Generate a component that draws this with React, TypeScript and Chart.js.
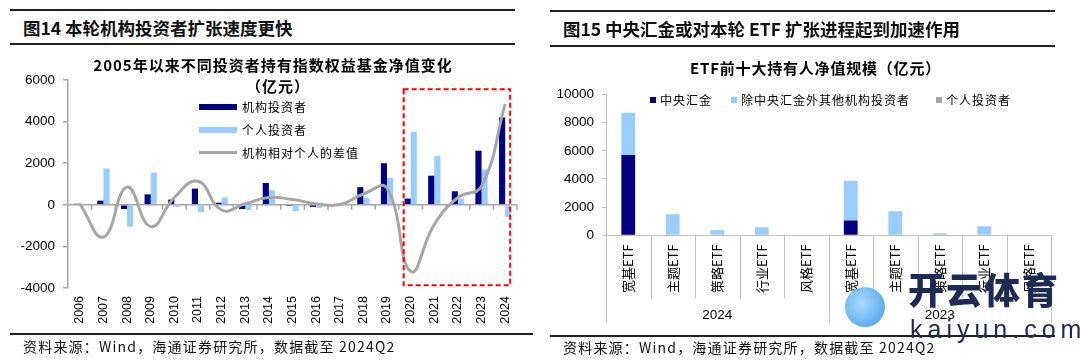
import React, { useEffect, useRef } from 'react';
import { Chart, registerables } from 'chart.js';

Chart.register(...registerables);

// ---------- Data: Figure 14 ----------
const years = ['2006', '2007', '2008', '2009', '2010', '2011', '2012', '2013', '2014', '2015', '2016', '2017', '2018', '2019', '2020', '2021', '2022', '2023', '2024'];
const institutionNet = [50, 200, -200, 500, 250, 780, 100, -200, 1050, -60, -100, -20, 850, 2000, 300, 1400, 650, 2600, 4200];
const individualNet = [0, 1750, -1050, 1550, -100, -350, 350, -250, 700, -300, -150, -30, 330, 1300, 3500, 2350, 300, 1700, -600];
const netDifference = [50, -1550, 850, -1050, 350, 1130, -250, 50, 350, 250, 50, 10, 520, 800, -3200, -950, 350, 900, 4850];
const leftYMin = -4000;
const leftYMax = 6000;
const leftYStep = 2000;

// ---------- Data: Figure 15 ----------
const etfTypes = ['宽基ETF', '主题ETF', '策略ETF', '行业ETF', '风格ETF', '宽基ETF', '主题ETF', '策略ETF', '行业ETF', '风格ETF'];
const etfYearGroups = ['2024', '2023'];
const huijinHoldings = [5700, 0, 0, 0, 0, 1050, 0, 0, 0, 0];
const otherInstitutionHoldings = [3000, 1500, 380, 580, 0, 2820, 1700, 140, 640, 0];
const individualHoldings = [0, 0, 0, 0, 0, 0, 0, 0, 0, 0];
const rightYMin = 0;
const rightYMax = 10000;
const rightYStep = 2000;

const NAVY = '#000080';
const LIGHT = '#99CCFF';
const GRAY = '#A6A6A6';
const AXIS_L = '#A6A6A6';
const AXIS_R = '#BFBFBF';
const LATIN = "'Liberation Sans', Arial, 'Noto Sans CJK SC', sans-serif";
const CJK = "'Noto Sans CJK SC', 'Liberation Sans', sans-serif";

const plainTick = (v: any) => String(v);

function LeftChart() {
  const ref = useRef<HTMLCanvasElement>(null);
  useEffect(() => {
    const overlay = {
      id: 'leftOverlay',
      beforeDatasetsDraw(chart: any) {
        const { ctx, chartArea } = chart;
        const y = chart.scales.y;
        const y0 = y.getPixelForValue(0);
        ctx.save();
        ctx.strokeStyle = AXIS_L;
        ctx.lineWidth = 1.5;
        ctx.beginPath();
        ctx.moveTo(chartArea.left, y0);
        ctx.lineTo(chartArea.right, y0);
        const n = years.length;
        const w = (chartArea.right - chartArea.left) / n;
        for (let i = 1; i <= n; i++) {
          const px = chartArea.left + i * w;
          ctx.moveTo(px, y0);
          ctx.lineTo(px, y0 + 5);
        }
        ctx.stroke();
        ctx.restore();
      },
      afterDraw(chart: any) {
        const { ctx } = chart;
        const x = chart.scales.x;
        const y = chart.scales.y;
        const left = x.getPixelForValue(14) - 7;
        const right = x.getPixelForValue(18) + 5;
        const top = y.getPixelForValue(5550);
        const bottom = y.getPixelForValue(-3870);
        ctx.save();
        ctx.strokeStyle = '#FF0000';
        ctx.lineWidth = 2;
        ctx.setLineDash([5, 3]);
        ctx.strokeRect(left, top, right - left, bottom - top);
        ctx.restore();
      },
    };
    const chart = new Chart(ref.current as HTMLCanvasElement, {
      type: 'bar',
      data: {
        labels: years,
        datasets: [
          {
            type: 'line',
            label: '机构相对个人的差值',
            data: netDifference,
            borderColor: GRAY,
            borderWidth: 3,
            pointRadius: 0,
            tension: 0.45,
            fill: false,
            order: 0,
          } as any,
          {
            label: '机构投资者',
            data: institutionNet,
            backgroundColor: NAVY,
            categoryPercentage: 0.52,
            barPercentage: 1,
            order: 1,
          },
          {
            label: '个人投资者',
            data: individualNet,
            backgroundColor: LIGHT,
            categoryPercentage: 0.52,
            barPercentage: 1,
            order: 1,
          },
        ],
      },
      options: {
        responsive: false,
        animation: false,
        layout: { padding: { top: 34, right: 23, left: 0, bottom: 0 } },
        plugins: { legend: { display: false }, tooltip: { enabled: false }, title: { display: false } },
        scales: {
          x: {
            grid: { display: false, drawTicks: false },
            border: { display: false },
            ticks: {
              autoSkip: false,
              maxRotation: 90,
              minRotation: 90,
              padding: 8,
              color: '#000',
              font: { family: LATIN, size: 12.5 },
            },
            afterFit: (s: any) => { s.height = 46; },
          },
          y: {
            min: leftYMin,
            max: leftYMax,
            ticks: { stepSize: leftYStep, color: '#000', padding: 8, font: { family: LATIN, size: 13.5 }, callback: plainTick },
            grid: { drawOnChartArea: false, drawTicks: true, tickLength: 5, color: AXIS_L, lineWidth: 1.5 },
            border: { display: true, color: AXIS_L, width: 1.5 },
            afterFit: (s: any) => { s.width = 68; },
          },
        },
      },
      plugins: [overlay],
    } as any);
    return () => chart.destroy();
  }, []);
  return <canvas ref={ref} width={540} height={288} style={{ position: 'absolute', left: 0, top: 46 }} />;
}

function RightChart() {
  const ref = useRef<HTMLCanvasElement>(null);
  useEffect(() => {
    const overlay = {
      id: 'rightOverlay',
      afterDraw(chart: any) {
        const { ctx, chartArea } = chart;
        const n = etfTypes.length;
        const w = (chartArea.right - chartArea.left) / n;
        const b = chartArea.bottom;
        ctx.save();
        ctx.strokeStyle = AXIS_R;
        ctx.lineWidth = 1;
        ctx.beginPath();
        for (let i = 0; i <= n; i++) {
          const px = Math.round(chartArea.left + i * w) + 0.5;
          const long = i % 5 === 0;
          ctx.moveTo(px, b);
          ctx.lineTo(px, b + (long ? 87 : 63));
        }
        ctx.stroke();
        ctx.fillStyle = '#000';
        ctx.font = `13.5px ${LATIN}`;
        ctx.textAlign = 'center';
        ctx.textBaseline = 'middle';
        etfYearGroups.forEach((g, gi) => {
          const cx = chartArea.left + (gi * 5 + 2.5) * w;
          ctx.fillText(g, cx, b + 80);
        });
        ctx.restore();
      },
    };
    const chart = new Chart(ref.current as HTMLCanvasElement, {
      type: 'bar',
      data: {
        labels: etfTypes,
        datasets: [
          { label: '中央汇金', data: huijinHoldings, backgroundColor: NAVY, categoryPercentage: 0.31, barPercentage: 1 },
          { label: '除中央汇金外其他机构投资者', data: otherInstitutionHoldings, backgroundColor: LIGHT, categoryPercentage: 0.31, barPercentage: 1 },
          { label: '个人投资者', data: individualHoldings, backgroundColor: GRAY, categoryPercentage: 0.31, barPercentage: 1 },
        ],
      },
      options: {
        responsive: false,
        animation: false,
        layout: { padding: { top: 48.5, right: 29, left: 0, bottom: 0 } },
        plugins: { legend: { display: false }, tooltip: { enabled: false }, title: { display: false } },
        scales: {
          x: {
            stacked: true,
            grid: { display: false, drawTicks: false },
            border: { display: true, color: AXIS_R, width: 1 },
            ticks: {
              autoSkip: false,
              maxRotation: 90,
              minRotation: 90,
              padding: 9,
              color: '#000',
              font: { family: CJK, size: 13 },
            },
            afterFit: (s: any) => { s.height = 100.7; },
          },
          y: {
            stacked: true,
            min: rightYMin,
            max: rightYMax,
            ticks: { stepSize: rightYStep, color: '#000', padding: 8, font: { family: LATIN, size: 13.5 }, callback: plainTick },
            grid: { drawOnChartArea: false, drawTicks: true, tickLength: 4, color: AXIS_R },
            border: { display: true, color: AXIS_R, width: 1 },
            afterFit: (s: any) => { s.width = 66; },
          },
        },
      },
      plugins: [overlay],
    } as any);
    return () => chart.destroy();
  }, []);
  return <canvas ref={ref} width={540} height={290} style={{ position: 'absolute', left: 540, top: 46 }} />;
}

const abs = (s: React.CSSProperties): React.CSSProperties => ({ position: 'absolute', ...s });

export default function App() {
  const rule = (left: number, top: number, width: number, h = 2) => (
    <div style={abs({ left, top, width, height: h, background: '#222' })} />
  );
  const legendText: React.CSSProperties = { fontSize: 12, letterSpacing: 1, color: '#000', whiteSpace: 'nowrap', lineHeight: '14px' };
  const headText: React.CSSProperties = { fontSize: 17.5, fontWeight: 700, letterSpacing: 0, color: '#111', whiteSpace: 'nowrap', lineHeight: '24px' };
  const footText: React.CSSProperties = { fontSize: 14, letterSpacing: 1.2, color: '#111', whiteSpace: 'nowrap', lineHeight: '18px' };
  return (
    <div style={abs({ left: 0, top: 0, width: 1080, height: 364, background: '#fff', overflow: 'hidden', fontFamily: CJK, position: 'fixed' })}>
      {/* Left panel */}
      {rule(10, 9, 505)}
      <div style={abs({ left: 23, top: 16, ...headText })}>图14 本轮机构投资者扩张速度更快</div>
      {rule(10, 43, 505)}
      <LeftChart />
      <div style={abs({ left: 0, width: 546, top: 55, textAlign: 'center', fontSize: 15, fontWeight: 700, letterSpacing: 1, lineHeight: '20px', color: '#000' })}>
        2005年以来不同投资者持有指数权益基金净值变化
      </div>
      <div style={abs({ left: 0, width: 556, top: 76, textAlign: 'center', fontSize: 15, fontWeight: 700, letterSpacing: 1, lineHeight: '20px', color: '#000' })}>（亿元）</div>
      <div style={abs({ left: 199, top: 104, width: 38, height: 6, background: NAVY })} />
      <div style={abs({ left: 242, top: 100, ...legendText })}>机构投资者</div>
      <div style={abs({ left: 199, top: 127, width: 38, height: 6, background: LIGHT })} />
      <div style={abs({ left: 242, top: 123, ...legendText })}>个人投资者</div>
      <div style={abs({ left: 199, top: 151, width: 38, height: 3, background: GRAY })} />
      <div style={abs({ left: 242, top: 146, ...legendText })}>机构相对个人的差值</div>
      {rule(10, 333, 523, 1.5)}
      <div style={abs({ left: 23, top: 337, ...footText })}>资料来源：Wind，海通证券研究所，数据截至 2024Q2</div>

      {/* Right panel */}
      {rule(550, 10, 505)}
      <div style={abs({ left: 563, top: 17, ...headText })}>图15 中央汇金或对本轮 ETF 扩张进程起到加速作用</div>
      {rule(550, 45, 505)}
      <RightChart />
      <div style={abs({ left: 690, top: 58, fontSize: 15, fontWeight: 700, letterSpacing: 0.8, lineHeight: '20px', color: '#000', whiteSpace: 'nowrap' })}>ETF前十大持有人净值规模（亿元）</div>
      <div style={abs({ left: 650, top: 97, width: 6, height: 6, background: NAVY })} />
      <div style={abs({ left: 660, top: 93, ...legendText })}>中央汇金</div>
      <div style={abs({ left: 731, top: 97, width: 6, height: 6, background: LIGHT })} />
      <div style={abs({ left: 741, top: 93, ...legendText })}>除中央汇金外其他机构投资者</div>
      <div style={abs({ left: 936, top: 97, width: 6, height: 6, background: GRAY })} />
      <div style={abs({ left: 946, top: 93, ...legendText })}>个人投资者</div>
      {rule(550, 335, 505, 1.5)}
      <div style={abs({ left: 563, top: 338, ...footText })}>资料来源：Wind，海通证券研究所，数据截至 2024Q2</div>

      {/* Watermark */}
      <div style={abs({ left: 845, top: 287, width: 40, height: 40, borderRadius: 20, background: 'radial-gradient(circle at 40% 40%, #9fd8ff, #2f8fe8)', opacity: 0.9 })} />
      <div style={abs({ left: 908, top: 268, fontSize: 36, fontWeight: 900, color: '#1c2a55', letterSpacing: 2, lineHeight: '40px', whiteSpace: 'nowrap' })}>开云体育</div>
      <div style={abs({ left: 910, top: 314, fontSize: 25, fontWeight: 500, color: '#1c2a55', letterSpacing: 5, lineHeight: '30px', fontFamily: LATIN, whiteSpace: 'nowrap' })}>kaiyun.com</div>
    </div>
  );
}
